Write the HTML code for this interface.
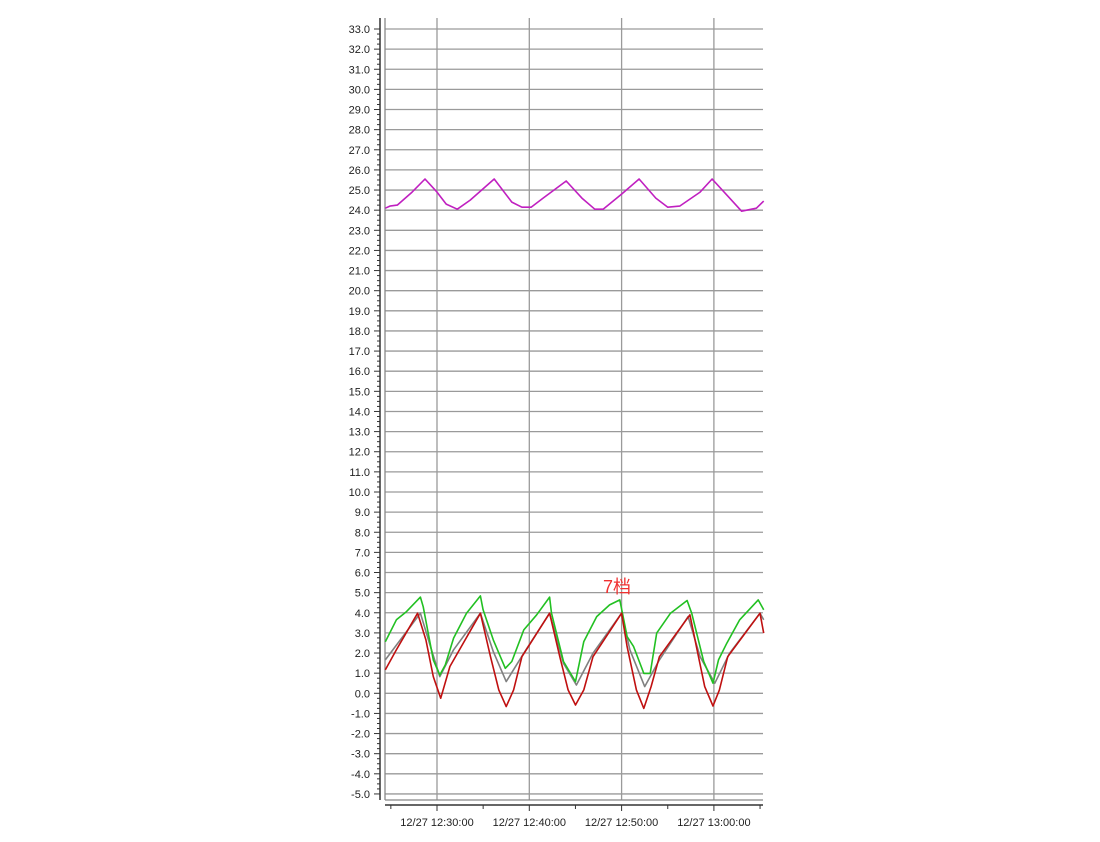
<!DOCTYPE html>
<html><head><meta charset="utf-8"><style>
body{margin:0;background:#fff;width:1100px;height:842px;overflow:hidden}
svg{display:block;font-family:"Liberation Sans","Noto Sans CJK SC",sans-serif}
</style></head><body>
<svg id="chart" width="1100" height="842" viewBox="0 0 1100 842"></svg>
<script>
const yTicks=[33,32,31,30,29,28,27,26,25,24,23,22,21,20,19,18,17,16,15,14,13,12,11,10,9,8,7,6,5,4,3,2,1,0,-1,-2,-3,-4,-5];
const xTickMinutes=[30,40,50,60];
const xTickLabels=["12/27 12:30:00","12/27 12:40:00","12/27 12:50:00","12/27 13:00:00"];
const magentaT=[24.4,24.9,25.7,27.3,28.7,30,31,32.2,33.6,36.2,38.1,39.2,40.2,41.5,44.0,45.7,47.1,48.0,50.0,51.9,53.7,55.0,56.3,58.5,59.8,61.7,63.0,64.6,65.4];
const magentaV=[24.1,24.2,24.25,24.9,25.55,24.9,24.3,24.05,24.5,25.55,24.4,24.15,24.15,24.6,25.45,24.6,24.05,24.05,24.8,25.55,24.6,24.15,24.2,24.9,25.55,24.6,23.95,24.1,24.45];
const greenT=[24.4,25.6,26.7,28.2,28.5,29.6,30.3,30.9,31.8,33.2,34.7,35.0,36.1,37.4,38.1,39.4,40.8,42.2,42.4,43.7,45.0,45.9,47.3,48.7,49.8,50.6,51.3,52.4,53.1,53.8,55.3,57.1,57.6,58.9,59.9,60.5,61.4,62.8,64.8,65.4];
const greenV=[2.56,3.65,4.06,4.78,4.3,1.66,0.91,1.41,2.74,3.98,4.84,4.15,2.65,1.24,1.58,3.15,3.9,4.78,3.98,1.58,0.58,2.57,3.81,4.39,4.64,2.82,2.32,0.99,0.99,2.99,3.98,4.61,3.98,1.58,0.5,1.66,2.49,3.65,4.64,4.15];
const grayT=[24.4,28.2,29.3,30.3,31.8,34.7,36.1,37.5,39.4,42.2,43.7,45.1,46.9,50.0,50.9,52.5,54.1,57.2,58.5,60.1,61.7,65.0,65.4];
const grayV=[1.66,3.98,2.32,0.83,2.16,3.98,2.07,0.58,1.99,3.98,1.49,0.41,1.99,3.98,2.16,0.33,1.66,3.81,1.82,0.5,1.99,3.98,3.65];
const redT=[24.4,25.6,27.9,28.8,29.6,30.4,31.4,34.7,35.8,36.7,37.5,38.3,39.2,42.2,43.3,44.2,45.0,45.9,46.9,50.0,50.6,51.6,52.4,53.2,54.1,57.4,58.1,59.0,59.9,60.6,61.5,65.0,65.4];
const redV=[1.16,2.16,3.98,2.65,0.83,-0.25,1.33,3.98,1.82,0.17,-0.66,0.17,1.82,3.98,1.82,0.17,-0.58,0.17,1.82,3.98,2.32,0.17,-0.75,0.33,1.82,3.9,2.32,0.33,-0.63,0.17,1.82,3.98,2.99];

const NS="http://www.w3.org/2000/svg";
const svg=document.getElementById('chart');
const L=385,R=763,T=18,B=800;
const yS=v=>29+(33-v)*20.13;
const xS=t=>437+(t-30)*9.23;
function mk(tag,attrs,parent){const e=document.createElementNS(NS,tag);for(const k in attrs)e.setAttribute(k,attrs[k]);(parent||svg).appendChild(e);return e;}

const grid=mk('g',{});


yTicks.forEach(v=>{mk('line',{x1:L,x2:R,y1:yS(v),y2:yS(v),stroke:'#9a9a9a','stroke-width':1.3},grid);});
xTickMinutes.forEach(t=>{mk('line',{x1:xS(t),x2:xS(t),y1:T,y2:B,stroke:'#9a9a9a','stroke-width':1.3},grid);});
mk('line',{x1:L,x2:L,y1:T,y2:B,stroke:'#888','stroke-width':1.3},grid);
mk('line',{x1:L,x2:R,y1:B,y2:B,stroke:'#888','stroke-width':1.3},grid);

const yAxis=mk('g',{});


mk('line',{x1:380,x2:380,y1:T,y2:B,stroke:'#333','stroke-width':1.5},yAxis);
for(let v=33;v>=-5.01;v-=0.25){const y=yS(v);const major=Math.abs(v-Math.round(v))<1e-6;mk('line',{x1:major?374:377,x2:380,y1:y,y2:y,stroke:'#333','stroke-width':1},yAxis);}
yTicks.forEach(v=>{const t=mk('text',{x:370,y:yS(v)+4,'text-anchor':'end','font-size':11,fill:'#222'},yAxis);t.textContent=v.toFixed(1);

});

const xAxis=mk('g',{});


mk('line',{x1:L,x2:R,y1:805,y2:805,stroke:'#333','stroke-width':1.5},xAxis);
for(let t=25;t<=65;t+=5){mk('line',{x1:xS(t),x2:xS(t),y1:805,y2:t%10===0?811:809,stroke:'#333','stroke-width':1},xAxis);}
xTickMinutes.forEach((t,i)=>{const e=mk('text',{x:xS(t),y:826,'text-anchor':'middle','font-size':11,fill:'#222'},xAxis);e.textContent=xTickLabels[i];

});

function series(ts,vs,color,name){const d=ts.map((t,i)=>(i?'L':'M')+xS(t).toFixed(1)+','+yS(vs[i]).toFixed(1)).join('');
const p=mk('path',{d:d,fill:'none',stroke:color,'stroke-width':1.6,'stroke-linejoin':'round'});

}
series(magentaT,magentaV,'#c020c0','series-magenta');
series(grayT,grayV,'#808080','series-gray');
series(greenT,greenV,'#22c022','series-green');
series(redT,redV,'#c01010','series-red');

const ann=mk('text',{x:603,y:593,'font-size':18,fill:'#f03030'});
ann.textContent='7档';


</script>
</body></html>
